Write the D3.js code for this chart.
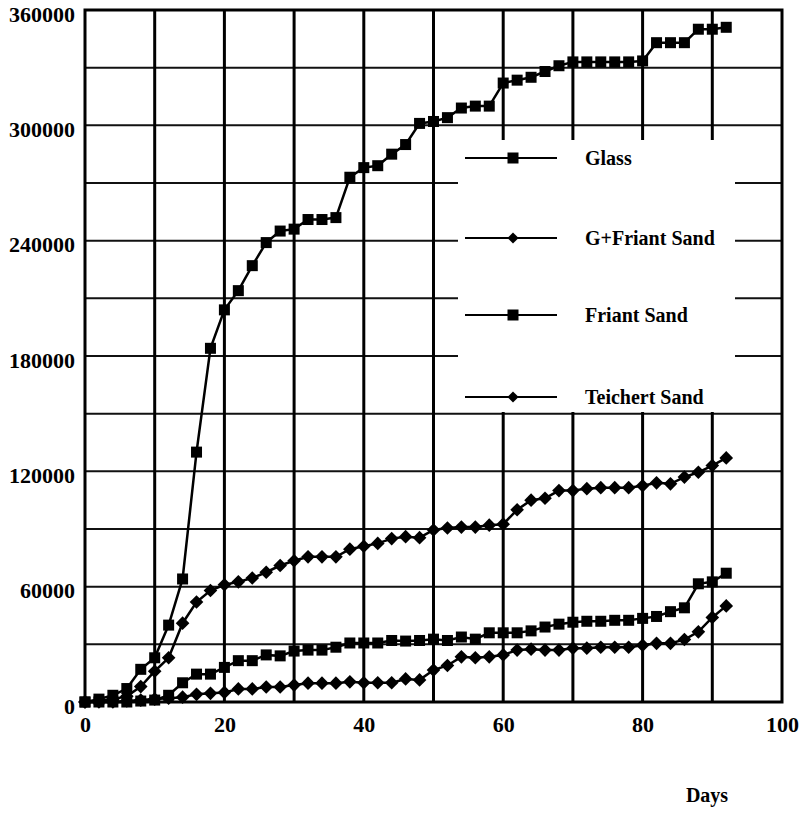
<!DOCTYPE html>
<html>
<head>
<meta charset="utf-8">
<script src="https://cdn.jsdelivr.net/npm/d3@7"></script>
<style>
  body { margin: 0; background: #fff; }
  svg text { font-family: "Liberation Serif", "Times New Roman", serif; font-weight: bold; fill: #000; }
</style>
</head>
<body>
<div id="chart"></div>
<script>
const days = [0, 2, 4, 6, 8, 10, 12, 14, 16, 18, 20, 22, 24, 26, 28, 30, 32, 34, 36, 38, 40, 42, 44, 46,
    48, 50, 52, 54, 56, 58, 60, 62, 64, 66, 68, 70, 72, 74, 76, 78, 80, 82, 84, 86, 88, 90, 92];

const glass = [0, 1500, 3500, 7000, 17000, 23000, 40000, 64000, 130000, 184000, 204000, 214000, 227000,
    239000, 245000, 246000, 251000, 251000, 252000, 273000, 278000, 279000, 285000, 290000, 301000, 302000,
    304000, 309000, 310000, 310000, 322000, 323500, 325000, 328000, 331000, 333000, 333000, 333000, 333000,
    333000, 333500, 343000, 343000, 343000, 350000, 350000, 351000];

const gFriantSand = [0, 500, 1500, 3000, 8000, 16000, 23000, 41000, 52000, 58000, 61000, 62500, 64500,
    67500, 71000, 73500, 75500, 75500, 75500, 79500, 81000, 82500, 85000, 86000, 85500, 89500, 90500, 91000,
    91000, 92000, 92500, 100000, 105000, 106000, 110000, 110000, 111000, 111500, 111500, 111500, 112500,
    114000, 113500, 117000, 119500, 123000, 127000];

const friantSand = [0, 0, 0, 0, 500, 1000, 3500, 10000, 14500, 14500, 18000, 21500, 21500, 24500, 24000,
    26500, 27000, 27000, 28500, 30700, 30700, 30700, 32000, 31700, 32000, 32700, 32000, 33800, 32700, 36000,
    36000, 36000, 37000, 39000, 40500, 41500, 42000, 42000, 42500, 42500, 43500, 44500, 47000, 49000, 61500,
    62500, 67000];

const teichertSand = [0, 0, 0, 500, 1000, 1500, 2000, 2500, 4000, 4500, 5000, 6800, 6800, 7800, 7800, 8800,
    9800, 9800, 9800, 10500, 10000, 10000, 10000, 12000, 11500, 16600, 19000, 23500, 23000, 23500, 24500,
    27000, 27500, 27000, 27000, 28000, 28000, 28500, 28500, 28500, 29500, 30500, 30500, 32500, 36500, 44000,
    50000];

const seriesNames = ["Glass", "G+Friant Sand", "Friant Sand", "Teichert Sand"];
const seriesValues = [glass, gFriantSand, friantSand, teichertSand];
const seriesMarkers = ["square", "diamond", "square", "diamond"];

const xTicks = [0, 20, 40, 60, 80, 100];
const yTicks = [0, 60000, 120000, 180000, 240000, 300000, 360000];

const width = 810, height = 814;
const plot = { left: 85, right: 782, top: 10, bottom: 702 };

const svg = d3.select("#chart").append("svg")
    .attr("width", width)
    .attr("height", height);

const x = d3.scaleLinear().domain([0, 100]).range([plot.left, plot.right]);
const y = d3.scaleLinear().domain([0, 360000]).range([plot.bottom, plot.top]);

// grid
const grid = svg.append("g");
grid.selectAll("line.h")
    .data(d3.range(30000, 360000, 30000))
    .enter().append("line")
    .attr("x1", plot.left).attr("x2", plot.right)
    .attr("y1", d => y(d)).attr("y2", d => y(d))
    .attr("stroke", "#111").attr("stroke-width", 2);

grid.selectAll("line.v")
    .data(d3.range(10, 100, 10))
    .enter().append("line")
    .attr("x1", d => x(d)).attr("x2", d => x(d))
    .attr("y1", plot.top).attr("y2", plot.bottom)
    .attr("stroke", "#000").attr("stroke-width", 3);

// legend box blanks out the grid behind it
const legendBox = { x: 458, y: 140, w: 277, h: 272 };
svg.append("rect")
    .attr("x", legendBox.x).attr("y", legendBox.y)
    .attr("width", legendBox.w).attr("height", legendBox.h)
    .attr("fill", "#fff");

// frame
svg.append("rect")
    .attr("x", plot.left).attr("y", plot.top)
    .attr("width", plot.right - plot.left).attr("height", plot.bottom - plot.top)
    .attr("fill", "none").attr("stroke", "#000").attr("stroke-width", 3);

// axes (labels only)
const yAxis = svg.append("g")
    .attr("transform", `translate(${plot.left},0)`)
    .call(d3.axisLeft(y).tickValues(yTicks).tickSize(0).tickPadding(10).tickFormat(d3.format("d")));
yAxis.select(".domain").remove();
yAxis.selectAll("text").style("font-size", "22px").attr("dy", "0.5em");

const xAxis = svg.append("g")
    .attr("transform", `translate(0,${plot.bottom})`)
    .call(d3.axisBottom(x).tickValues(xTicks).tickSize(0).tickPadding(14));
xAxis.select(".domain").remove();
xAxis.selectAll("text").style("font-size", "22px").attr("dy", "0.71em");

svg.append("text")
    .attr("x", 707).attr("y", 802)
    .attr("text-anchor", "middle")
    .style("font-size", "20px")
    .text("Days");

function marker(sel, type, size) {
    if (type === "square") {
        sel.append("rect")
            .attr("x", -size / 2).attr("y", -size / 2)
            .attr("width", size).attr("height", size)
            .attr("fill", "#000");
    } else {
        const s = size * 0.62;
        sel.append("path")
            .attr("d", `M0,${-s}L${s},0L0,${s}L${-s},0Z`)
            .attr("fill", "#000");
    }
}

const line = d3.line()
    .x((d, i) => x(days[i]))
    .y(d => y(d));

seriesValues.forEach((vals, k) => {
    const g = svg.append("g");
    g.append("path")
        .datum(vals)
        .attr("d", line)
        .attr("fill", "none")
        .attr("stroke", "#000")
        .attr("stroke-width", 2.5);
    g.selectAll("g.pt")
        .data(vals)
        .enter().append("g")
        .attr("transform", (d, i) => `translate(${x(days[i])},${y(d)})`)
        .each(function () { marker(d3.select(this), seriesMarkers[k], 11); });
});

// legend
const legendY = [158, 238, 315, 397];
seriesNames.forEach((name, k) => {
    const g = svg.append("g").attr("transform", `translate(0,${legendY[k]})`);
    g.append("line")
        .attr("x1", 465).attr("x2", 557)
        .attr("stroke", "#000").attr("stroke-width", 2);
    const m = g.append("g").attr("transform", "translate(513,0)");
    marker(m, seriesMarkers[k], seriesMarkers[k] === "square" ? 11 : 9);
    g.append("text")
        .attr("x", 585).attr("dy", "0.35em")
        .style("font-size", "20px")
        .text(name);
});
</script>
</body>
</html>
